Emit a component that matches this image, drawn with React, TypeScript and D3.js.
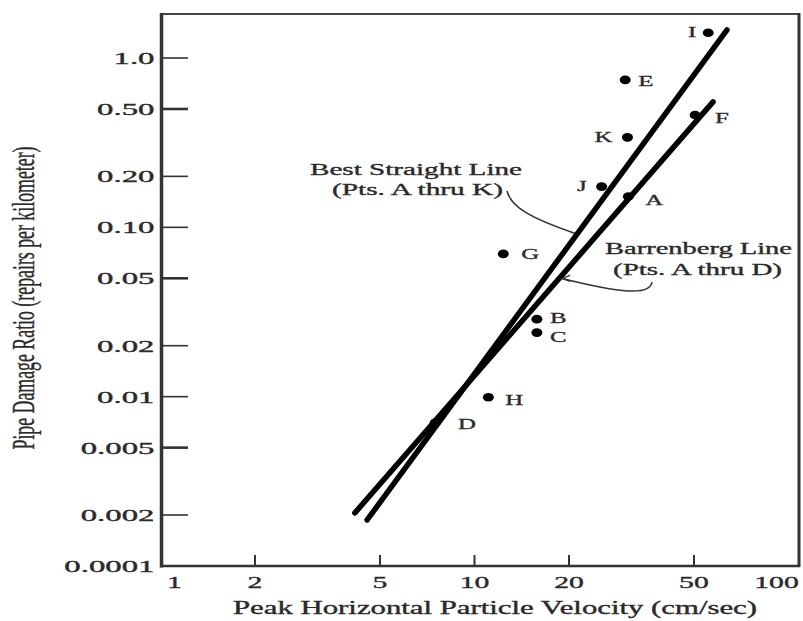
import React from "react";
import * as d3 from "d3";

// ---- data ----
const pointNames = ["A", "B", "C", "D", "E", "F", "G", "H", "I", "J", "K"];
const pointVelocity = [30.9, 15.8, 15.8, 7.49, 30.2, 50.4, 12.35, 11.07, 55.5, 25.4, 30.7];
const pointRatio = [0.152, 0.0287, 0.0239, 0.00702, 0.743, 0.461, 0.0697, 0.00992, 1.41, 0.174, 0.34];

const bestLineVelocity = [4.55, 63.7];
const bestLineRatio = [0.00187, 1.466];
const barrLineVelocity = [4.16, 57.5];
const barrLineRatio = [0.00206, 0.551];

const xTickValues = [1, 2, 5, 10, 20, 50, 100];
const xTickLabels = ["1", "2", "5", "10", "20", "50", "100"];
const yTickValues = [1.0, 0.5, 0.2, 0.1, 0.05, 0.02, 0.01, 0.005, 0.002, 0.001];
const yTickLabels = ["1.0", "0.50", "0.20", "0.10", "0.05", "0.02", "0.01", "0.005", "0.002", "0.0001"];

const xTitle = "Peak Horizontal Particle Velocity (cm/sec)";
const yTitle = "Pipe Damage Ratio (repairs per kilometer)";

// ---- layout ----
const W = 803;
const H = 621;
const FONT = "'Liberation Serif', 'Times New Roman', serif";
const TXT = "#2a2a2a";

const labelPlacement: Record<string, { anchor: string; dx: number; dy: number }> = {
  A: { anchor: "start", dx: 17, dy: 8 },
  B: { anchor: "start", dx: 13, dy: 4 },
  C: { anchor: "start", dx: 13, dy: 9 },
  D: { anchor: "start", dx: 23, dy: 6 },
  E: { anchor: "start", dx: 13, dy: 6 },
  F: { anchor: "start", dx: 20, dy: 8 },
  G: { anchor: "start", dx: 18, dy: 5 },
  H: { anchor: "start", dx: 17, dy: 8 },
  I: { anchor: "end", dx: -12, dy: 4 },
  J: { anchor: "end", dx: -15, dy: 4 },
  K: { anchor: "end", dx: -15, dy: 5 },
};

function onLine(vs: number[], rs: number[], v: number): number {
  const t = (Math.log(v) - Math.log(vs[0])) / (Math.log(vs[1]) - Math.log(vs[0]));
  return Math.exp(Math.log(rs[0]) + t * (Math.log(rs[1]) - Math.log(rs[0])));
}

export default function App() {
  const x = d3.scaleLog().domain([1, 108]).range([160.5, 799]);
  const y = d3.scaleLog().domain([0.001, 1.819]).range([566, 14]);

  const line = d3
    .line<[number, number]>()
    .x((d) => x(d[0]))
    .y((d) => y(d[1]));

  const bestPts: [number, number][] = bestLineVelocity.map((v, i) => [v, bestLineRatio[i]]);
  const barrPts: [number, number][] = barrLineVelocity.map((v, i) => [v, barrLineRatio[i]]);

  // arrow tips on the lines
  const bestTipV = 21.4;
  const bestTip = [x(bestTipV), y(onLine(bestLineVelocity, bestLineRatio, bestTipV))];
  const barrTipV = 18.6;
  const barrTip = [x(barrTipV) + 3, y(onLine(barrLineVelocity, barrLineRatio, barrTipV))];

  const SXT = 1.93; // horizontal stretch of y tick labels
  const SXX = 1.75; // horizontal stretch of x tick labels
  const SXP = 1.6; // point labels
  const textStroke = { stroke: TXT, strokeWidth: 0.35 };

  return (
    <svg
      width={W}
      height={H}
      style={{ position: "absolute", left: 0, top: 0, background: "#fff" }}
      fontFamily={FONT}
    >
      <rect x={0} y={0} width={W} height={H} fill="#fff" />

      {/* frame */}
      <line x1={160} y1={14} x2={799} y2={14} stroke="#444" strokeWidth={2} />
      <line x1={799} y1={13} x2={799} y2={567} stroke="#333" strokeWidth={3} />
      <line x1={160} y1={566} x2={800} y2={566} stroke="#333" strokeWidth={2.5} />
      <line x1={161.5} y1={13} x2={161.5} y2={567.5} stroke="#333" strokeWidth={3.5} />

      {/* y ticks */}
      {yTickValues.map((v, i) => (
        <g key={"yt" + i}>
          {i < yTickValues.length - 1 && (
            <line
              x1={162}
              x2={188}
              y1={y(v)}
              y2={y(v)}
              stroke="#333"
              strokeWidth={yTickLabels[i].endsWith("5") || yTickLabels[i] === "0.50" ? 2.6 : 1.6}
            />
          )}
          <text
            transform={`translate(154.5, ${y(v) + 6}) scale(${SXT},1)`}
            textAnchor="end"
            fontSize={17}
            fill={TXT}
            {...textStroke}
          >
            {yTickLabels[i]}
          </text>
        </g>
      ))}

      {/* x ticks */}
      {xTickValues.map((v, i) => {
        const first = i === 0;
        const last = i === xTickValues.length - 1;
        const lx = x(v) + (first ? 14 : last ? -12 : 0);
        return (
          <g key={"xt" + i}>
            {!first && !last && (
              <line x1={x(v)} x2={x(v)} y1={565} y2={555} stroke="#333" strokeWidth={2} />
            )}
            <text
              transform={`translate(${lx}, 588) scale(${SXX},1)`}
              textAnchor="middle"
              fontSize={17}
              fill={TXT}
              {...textStroke}
            >
              {xTickLabels[i]}
            </text>
          </g>
        );
      })}

      {/* axis titles */}
      <text
        x={233}
        y={614}
        fontSize={18}
        textLength={524}
        lengthAdjust="spacingAndGlyphs"
        fill={TXT}
        {...textStroke}
      >
        {xTitle}
      </text>
      <text
        transform={`translate(34, 298) scale(1.95,1) rotate(-90)`}
        textAnchor="middle"
        fontSize={16}
        fill={TXT}
        textLength={303}
        lengthAdjust="spacingAndGlyphs"
        stroke={TXT}
        strokeWidth={0.2}
      >
        {yTitle}
      </text>

      {/* fitted lines */}
      <path d={line(bestPts) || ""} stroke="#000" strokeWidth={5.5} fill="none" strokeLinecap="round" />
      <path d={line(barrPts) || ""} stroke="#000" strokeWidth={5.5} fill="none" strokeLinecap="round" />

      {/* points */}
      {pointNames.map((n, i) => {
        const cx = x(pointVelocity[i]);
        const cy = y(pointRatio[i]);
        const p = labelPlacement[n];
        return (
          <g key={n}>
            <ellipse cx={cx} cy={cy} rx={5.5} ry={4.3} fill="#000" />
            <text
              transform={`translate(${cx + p.dx}, ${cy + p.dy}) scale(${SXP},1)`}
              textAnchor={p.anchor}
              fontSize={15.5}
              fill={TXT}
              {...textStroke}
            >
              {n}
            </text>
          </g>
        );
      })}

      {/* annotation: best straight line */}
      <text x={310} y={175} fontSize={17} textLength={212} lengthAdjust="spacingAndGlyphs" fill={TXT} {...textStroke}>
        Best Straight Line
      </text>
      <text x={332} y={195} fontSize={17} textLength={171} lengthAdjust="spacingAndGlyphs" fill={TXT} {...textStroke}>
        (Pts. A thru K)
      </text>
      <path
        d={`M507,191 C511,207 530,218 ${bestTip[0] - 3},${bestTip[1] + 1}`}
        stroke="#333"
        strokeWidth={1.6}
        fill="none"
      />

      {/* annotation: Barrenberg line */}
      <text x={605} y={254} fontSize={17} textLength={187} lengthAdjust="spacingAndGlyphs" fill={TXT} {...textStroke}>
        Barrenberg Line
      </text>
      <text x={613} y={275} fontSize={17} textLength={169} lengthAdjust="spacingAndGlyphs" fill={TXT} {...textStroke}>
        (Pts. A thru D)
      </text>
      <path
        d={`M652,282 C650,296 620,293 ${barrTip[0]},${barrTip[1]}`}
        stroke="#333"
        strokeWidth={1.6}
        fill="none"
      />
      <path
        d={`M${barrTip[0] + 8},${barrTip[1] - 3} L${barrTip[0]},${barrTip[1]} L${barrTip[0] + 8},${barrTip[1] + 3}`}
        stroke="#333"
        strokeWidth={1.4}
        fill="none"
      />
    </svg>
  );
}
